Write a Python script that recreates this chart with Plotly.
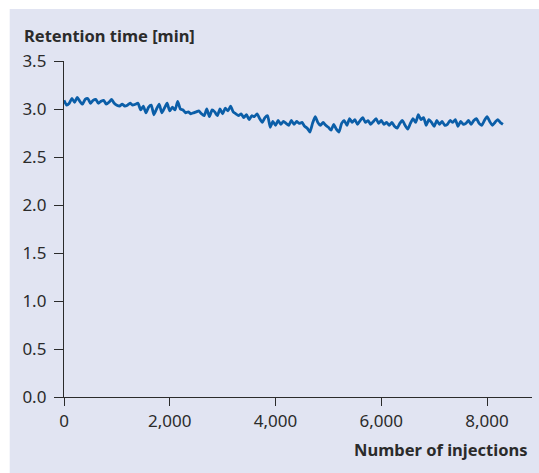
import plotly.graph_objects as go

# injections sampled every 50
injections = list(range(0, 8301, 50))

retention = [
    # 0 - 900
    3.09, 3.04, 3.06, 3.11, 3.07, 3.12, 3.08, 3.05, 3.10, 3.11,
    3.06, 3.09, 3.10, 3.06, 3.08, 3.09, 3.05, 3.07, 3.10,
    # 950 - 1350
    3.06, 3.04, 3.03, 3.05, 3.03, 3.04, 3.06, 3.04, 3.05,
    # 1400 - 2200
    3.06, 2.99, 3.03, 2.96, 3.02, 3.04, 2.94, 3.00, 3.05, 2.96,
    3.01, 3.06, 2.98, 3.02, 2.99, 3.08, 3.00,
    # 2250 - 2650
    2.99, 2.96, 2.97, 2.95, 2.96, 2.97, 2.98, 2.95, 2.93,
    # 2700 - 3200
    3.00, 2.92, 2.99, 2.97, 2.93, 3.00, 2.95, 3.01, 2.98, 3.03, 2.97,
    # 3250 - 3850
    2.95, 2.93, 2.95, 2.91, 2.94, 2.89, 2.93, 2.92, 2.95, 2.90,
    2.86, 2.91, 2.93,
    # 3900 - 4550
    2.81, 2.87, 2.83, 2.88, 2.84, 2.87, 2.85, 2.83, 2.88, 2.84,
    2.87, 2.85, 2.86, 2.82,
    # 4600 - 5200
    2.80, 2.76, 2.85, 2.92, 2.86, 2.83, 2.86, 2.83, 2.81, 2.78,
    2.84, 2.79, 2.76,
    # 5250 - 6500
    2.85, 2.88, 2.83, 2.90, 2.86, 2.89, 2.84, 2.88, 2.91, 2.86,
    2.88, 2.84, 2.87, 2.90, 2.85, 2.88, 2.84, 2.86, 2.83, 2.86,
    2.82, 2.80, 2.85, 2.88, 2.83, 2.79,
    # 6550 - 8300
    2.85, 2.90, 2.86, 2.94, 2.89, 2.91, 2.83, 2.89, 2.86, 2.82,
    2.88, 2.84, 2.87, 2.83, 2.84, 2.88, 2.86, 2.89, 2.82, 2.87,
    2.84, 2.85, 2.88, 2.84, 2.88, 2.90, 2.85, 2.83, 2.88, 2.92,
    2.87, 2.83, 2.86, 2.89, 2.86, 2.84,
]

x_ticks = [0, 2000, 4000, 6000, 8000]
y_ticks = [0.0, 0.5, 1.0, 1.5, 2.0, 2.5, 3.0, 3.5]

bg = "#e1e4f2"
ink = "#2b2b2b"
font_name = "Noto Sans"

fig = go.Figure()
fig.add_trace(go.Scatter(
    x=injections, y=retention, mode="lines",
    line=dict(color="#0b5ea8", width=2.8, shape="spline", smoothing=0.5),
    showlegend=False, hoverinfo="skip",
))

# lavender panel behind everything
fig.add_shape(type="rect", xref="paper", yref="paper",
              x0=-0.116, x1=1.02, y0=-0.23, y1=1.155,
              fillcolor=bg, line=dict(width=0), layer="below")

fig.update_layout(
    width=539, height=473,
    margin=dict(l=64, r=7, t=61, b=76),
    paper_bgcolor="white",
    plot_bgcolor="rgba(0,0,0,0)",
    font=dict(family=font_name, size=17, color=ink),
    xaxis=dict(
        range=[0, 8850], tickvals=x_ticks, tickformat=",",
        showline=True, linecolor=ink, linewidth=1.4,
        ticks="outside", ticklen=8, tickwidth=1.4, tickcolor=ink,
        showgrid=False, zeroline=False,
        tickfont=dict(size=17, color=ink),
    ),
    yaxis=dict(
        range=[0, 3.5], tickvals=y_ticks, tickformat=".1f",
        showline=True, linecolor=ink, linewidth=1.4,
        ticks="outside", ticklen=9, tickwidth=1.4, tickcolor=ink,
        showgrid=False, zeroline=False,
        tickfont=dict(size=17, color=ink),
        ticklabelstandoff=4,
    ),
    annotations=[
        dict(text="<b>Retention time [min]</b>", xref="paper", yref="paper",
             x=-0.09, y=1.076, xanchor="left", yanchor="middle",
             showarrow=False, font=dict(size=16.5, color=ink)),
        dict(text="<b>Number of injections</b>", xref="paper", yref="paper",
             x=0.996, y=-0.155, xanchor="right", yanchor="middle",
             showarrow=False, font=dict(size=16.5, color=ink)),
    ],
)

fig.write_html("out.html", config={"displayModeBar": False},
               post_script="document.body.style.margin='0';")
